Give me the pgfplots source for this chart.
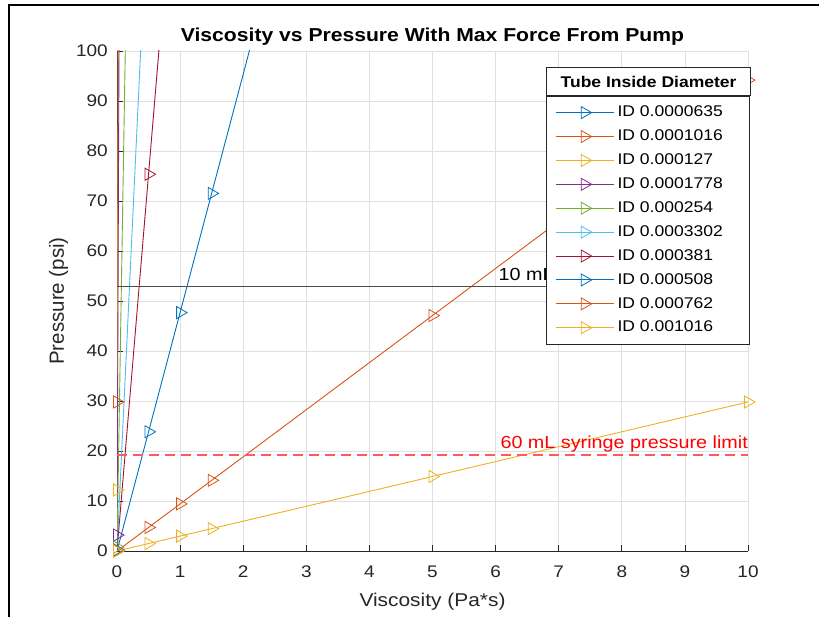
\documentclass[border=0pt]{standalone}
\usepackage{pgfplots}
\pgfplotsset{compat=1.18}
\usepackage{fontspec}
\setmainfont[FakeStretch=1.13]{Liberation Sans}
\newfontfamily\plainsans{Liberation Sans}
\usetikzlibrary{calc}
\definecolor{c1}{rgb}{0,0.447,0.741}
\definecolor{c2}{rgb}{0.85,0.325,0.098}
\definecolor{c3}{rgb}{0.929,0.694,0.125}
\definecolor{c4}{rgb}{0.494,0.184,0.556}
\definecolor{c5}{rgb}{0.466,0.674,0.188}
\definecolor{c6}{rgb}{0.301,0.745,0.933}
\definecolor{c7}{rgb}{0.635,0.078,0.184}
\definecolor{axgray}{rgb}{0.15,0.15,0.15}
\definecolor{gridgray}{rgb}{0.875,0.875,0.875}
\definecolor{limgray}{rgb}{0.3,0.3,0.3}
\definecolor{limred}{rgb}{1,0.35,0.35}
\newcommand{\lent}[1]{\makebox[124pt][l]{\hspace*{2pt}#1}}
\pgfplotsset{
  ser/.style={color=#1, line width=0.9pt, mark=triangle, mark size=7pt,
    mark options={rotate=-90, solid, fill=none, line width=0.8pt}},
}
\begin{document}
\begin{tikzpicture}
\useasboundingbox (0,0) rectangle (819pt,617pt);
\begin{axis}[
  at={(117pt,66pt)}, anchor=south west,
  scale only axis, width=631pt, height=500pt,
  xmin=0, xmax=10, ymin=0, ymax=100,
  restrict y to domain*=-10:2000,
  xtick={0,1,...,10}, ytick={0,10,...,100},
  axis x line*=bottom, axis y line*=left,
  axis line style={-, color=axgray, line width=0.8pt},
  tick align=inside, major tick length=6pt,
  tick style={color=axgray, line width=0.8pt},
  grid=major, major grid style={color=gridgray, line width=0.7pt},
  /pgf/number format/assume math mode=true,
  tick label style={font=\fontsize{16.8}{18}\selectfont, color=axgray},
  xticklabel style={anchor=north, inner sep=0pt, yshift=-15pt},
  yticklabel style={anchor=east, inner sep=0pt, xshift=-9pt},
  title={Viscosity vs Pressure With Max Force From Pump},
  title style={at={(axis description cs:0.5,1.0206)}, anchor=base, inner sep=0pt, yshift=-7pt,
    font=\bfseries\fontsize{18.7}{20}\selectfont},
  xlabel={Viscosity (Pa*s)},
  xlabel style={at={(axis description cs:0.5,-0.112)}, anchor=base, inner sep=0pt,
    font=\fontsize{18.5}{20}\selectfont, color=axgray},
  ylabel={\plainsans Pressure (psi)},
  ylabel style={at={(axis description cs:-0.084,0.5)}, anchor=base, inner sep=0pt,
    font=\fontsize{20.5}{22}\selectfont, color=axgray},
  legend style={name=leg, at={(rel axis cs:1.0032,0.91)}, anchor=north east,
    draw=axgray, fill=white, line width=0.8pt,
    font=\fontsize{15.5}{17}\selectfont,
    inner xsep=8.5pt, inner ysep=7.5pt, row sep=6.4pt,
    nodes={inner sep=1.5pt, text height=11.5pt, text depth=3pt}},
  legend cell align=left,
  legend image code/.code={\draw[mark repeat=2,mark phase=2] plot coordinates {(0pt,0pt)(29pt,0pt)(58pt,0pt)};},
]
% ID 0.0000635
\addplot[ser=c1] coordinates {(0.001,195.3) (0.5,97648) (1,195297) (1.5,292945) (5,976485) (10,1952970)};
\addlegendentry{\lent{ID 0.0000635}}
% ID 0.0001016
\addplot[ser=c2] coordinates {(0.001,29.8) (0.5,14900) (1,29800) (1.5,44700) (5,149000) (10,298000)};
\addlegendentry{\lent{ID 0.0001016}}
% ID 0.000127
\addplot[ser=c3] coordinates {(0.001,12.21) (0.5,6103) (1,12206) (1.5,18309) (5,61030) (10,122060)};
\addlegendentry{\lent{ID 0.000127}}
% ID 0.0001778
\addplot[ser=c4] coordinates {(0.001,3.177) (0.5,1588.6) (1,3177.3) (1.5,4766) (5,15886) (10,31773)};
\addlegendentry{\lent{ID 0.0001778}}
% ID 0.000254
\addplot[ser=c5] coordinates {(0.001,0.763) (0.5,381.4) (1,762.9) (1.5,1144.3) (5,3814) (10,7629)};
\addlegendentry{\lent{ID 0.000254}}
% ID 0.0003302
\addplot[ser=c6] coordinates {(0.001,0.267) (0.5,133.55) (1,267.1) (1.5,400.6) (5,1335.5) (10,2671)};
\addlegendentry{\lent{ID 0.0003302}}
% ID 0.000381
\addplot[ser=c7] coordinates {(0.001,0.151) (0.5,75.35) (1,150.7) (1.5,226.05) (5,753.5) (10,1507)};
\addlegendentry{\lent{ID 0.000381}}
% ID 0.000508
\addplot[ser=c1] coordinates {(0.001,0.0477) (0.5,23.84) (1,47.68) (1.5,71.52) (5,238.4) (10,476.8)};
\addlegendentry{\lent{ID 0.000508}}
% ID 0.000762
\addplot[ser=c2] coordinates {(0.001,0.0094) (0.5,4.709) (1,9.418) (1.5,14.13) (5,47.09) (10,94.18)};
\addlegendentry{\lent{ID 0.000762}}
% ID 0.001016
\addplot[ser=c3] coordinates {(0.001,0.003) (0.5,1.49) (1,2.98) (1.5,4.47) (5,14.9) (10,29.8)};
\addlegendentry{\lent{ID 0.001016}}
% limits
\addplot[forget plot, color=limgray, line width=0.8pt] coordinates {(0,53) (10,53)};
\addplot[forget plot, color=limred, line width=1.1pt, dash pattern=on 10pt off 6pt] coordinates {(0,19.2) (10,19.2)};
\node[anchor=base east, inner sep=0pt, font=\fontsize{17.5}{19}\selectfont, color=black] at (axis cs:9.97,54) {10 mL syringe pressure limit};
\node[anchor=base east, inner sep=0pt, font=\fontsize{17.5}{19}\selectfont, color=red] at (axis cs:10,20.4) {60 mL syringe pressure limit};
\end{axis}
\path let \p1=(leg.north west), \p2=(leg.north east) in
  node[draw=axgray, line width=0.8pt, fill=white, anchor=south west,
    minimum width={\x2-\x1}, minimum height=28pt, inner sep=0pt,
    font=\bfseries\fontsize{15.5}{17}\selectfont] at (\p1) {Tube Inside Diameter};
\draw[line width=2pt, black] (8.5pt,0pt) -- (8.5pt,611.5pt) -- (819pt,611.5pt);
\end{tikzpicture}
\end{document}
